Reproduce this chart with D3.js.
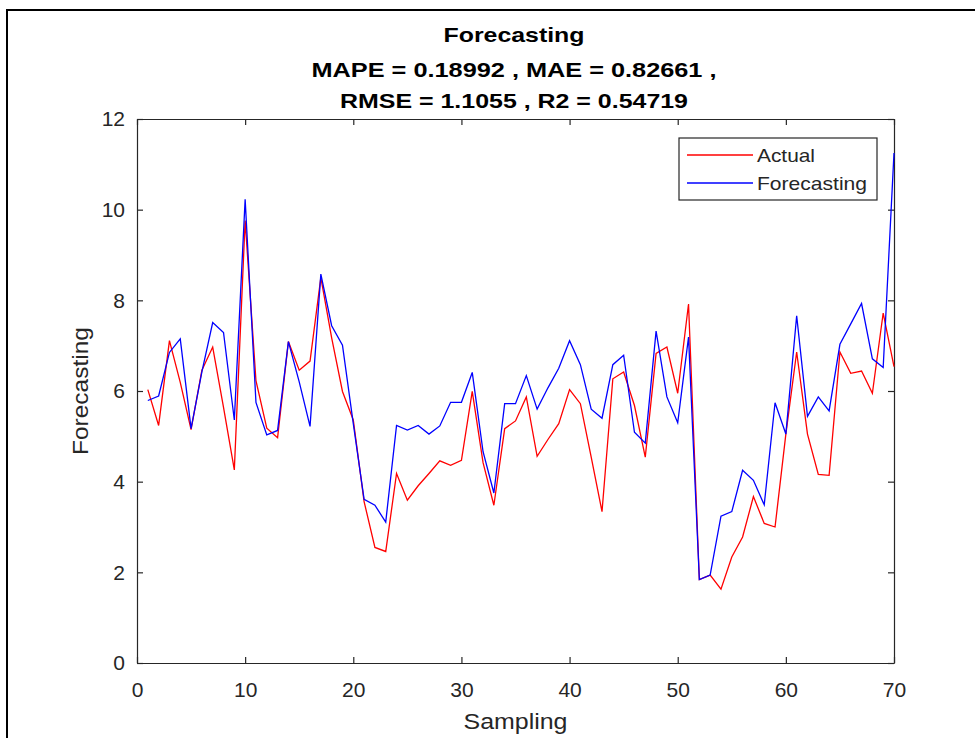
<!DOCTYPE html>
<html>
<head>
<meta charset="utf-8">
<title>Forecasting</title>
<script src="https://cdn.jsdelivr.net/npm/d3@7"></script>
<style>
  body { margin: 0; background: #fff; }
  text { font-family: "Liberation Sans", Arial, sans-serif; fill: #262626; }
</style>
</head>
<body>
<script>
  // x = 1..70 sampling index
  const actual = [
    6.03, 5.24, 7.11, 6.19, 5.15, 6.46, 6.97, 5.64, 4.26, 9.76,
    6.23, 5.18, 4.97, 7.09, 6.46, 6.66, 8.50, 7.17, 5.99, 5.36,
    3.56, 2.55, 2.46, 4.18, 3.59, 3.91, 4.18, 4.46, 4.36, 4.47,
    5.99, 4.42, 3.48, 5.17, 5.34, 5.87, 4.56, 4.93, 5.28, 6.03,
    5.72, 4.54, 3.34, 6.27, 6.42, 5.68, 4.54, 6.83, 6.97, 5.95,
    7.92, 1.84, 1.94, 1.63, 2.34, 2.78, 3.67, 3.08, 3.00, 5.05,
    6.86, 5.05, 4.16, 4.14, 6.86, 6.39, 6.44, 5.95, 7.72, 6.54
  ];
  const forecast = [
    5.79, 5.89, 6.85, 7.15, 5.17, 6.42, 7.51, 7.29, 5.36, 10.23,
    5.75, 5.03, 5.13, 7.09, 6.20, 5.22, 8.58, 7.44, 7.01, 5.28,
    3.61, 3.48, 3.11, 5.24, 5.14, 5.24, 5.05, 5.23, 5.75, 5.75,
    6.41, 4.66, 3.75, 5.72, 5.72, 6.34, 5.60, 6.07, 6.50, 7.11,
    6.58, 5.60, 5.40, 6.58, 6.79, 5.09, 4.85, 7.32, 5.87, 5.30,
    7.19, 1.84, 1.94, 3.24, 3.34, 4.25, 4.03, 3.49, 5.74, 5.05,
    7.66, 5.44, 5.87, 5.56, 7.03, 7.48, 7.93, 6.71, 6.52, 11.25
  ];
  const xTicks = [0, 10, 20, 30, 40, 50, 60, 70];
  const yTicks = [0, 2, 4, 6, 8, 10, 12];
  const titleLines = ['Forecasting', 'MAPE = 0.18992 , MAE = 0.82661 ,', 'RMSE = 1.1055 , R2 = 0.54719'];
  const seriesNames = ['Actual', 'Forecasting'];

  const width = 975, height = 738;
  const plotL = 137, plotR = 894, plotT = 119, plotB = 663;
  const axisColor = '#262626';

  const svg = d3.select('body').append('svg')
    .attr('width', width)
    .attr('height', height);

  // frame of the screenshot (top and left edges only)
  svg.append('line').attr('x1', 6).attr('x2', width).attr('y1', 10).attr('y2', 10)
    .attr('stroke', '#000').attr('stroke-width', 2);
  svg.append('line').attr('x1', 7).attr('x2', 7).attr('y1', 10).attr('y2', height)
    .attr('stroke', '#000').attr('stroke-width', 2);

  const x = d3.scaleLinear().domain([0, 70]).range([plotL, plotR]);
  const y = d3.scaleLinear().domain([0, 12]).range([plotB, plotT]);

  // axes: ticks point inward, box on all four sides
  const axB = d3.axisBottom(x).tickValues(xTicks).tickSizeInner(-6).tickSizeOuter(0).tickPadding(19);
  const axT = d3.axisTop(x).tickValues(xTicks).tickSizeInner(-6).tickSizeOuter(0).tickFormat('');
  const axL = d3.axisLeft(y).tickValues(yTicks).tickSizeInner(-6).tickSizeOuter(0).tickPadding(12);
  const axR = d3.axisRight(y).tickValues(yTicks).tickSizeInner(-6).tickSizeOuter(0).tickFormat('');

  function styleAxis(g) {
    g.select('.domain').attr('stroke', axisColor).attr('stroke-width', 1.2);
    g.selectAll('.tick line').attr('stroke', axisColor).attr('stroke-width', 1.2);
    g.selectAll('.tick text').attr('font-size', 21).attr('fill', '#333')
      .style('font-family', '"Liberation Sans", Arial, sans-serif');
  }

  svg.append('g').attr('transform', `translate(0,${plotB})`).call(axB).call(styleAxis);
  svg.append('g').attr('transform', `translate(0,${plotT})`).call(axT).call(styleAxis);
  svg.append('g').attr('transform', `translate(${plotL},0)`).call(axL).call(styleAxis);
  svg.append('g').attr('transform', `translate(${plotR},0)`).call(axR).call(styleAxis);

  // lines
  const line = d3.line().x((d, i) => x(i + 1)).y(d => y(d));
  svg.append('path').datum(actual)
    .attr('fill', 'none').attr('stroke', '#ff0000').attr('stroke-width', 1.3)
    .attr('d', line);
  svg.append('path').datum(forecast)
    .attr('fill', 'none').attr('stroke', '#0000ff').attr('stroke-width', 1.3)
    .attr('d', line);

  // title
  const titleY = [42, 77, 108];
  const titleW = [141, 405, 348];
  svg.selectAll('.title').data(titleLines).enter().append('text')
    .attr('class', 'title')
    .attr('x', 514).attr('y', (d, i) => titleY[i])
    .attr('text-anchor', 'middle')
    .attr('font-size', 21).attr('font-weight', 'bold')
    .attr('textLength', (d, i) => titleW[i]).attr('lengthAdjust', 'spacingAndGlyphs')
    .style('fill', '#000')
    .text(d => d);

  // axis labels
  svg.append('text')
    .attr('x', (plotL + plotR) / 2).attr('y', 729)
    .attr('text-anchor', 'middle').attr('font-size', 22)
    .attr('textLength', 104).attr('lengthAdjust', 'spacingAndGlyphs')
    .text('Sampling');
  svg.append('text')
    .attr('transform', `translate(88,${(plotT + plotB) / 2}) rotate(-90)`)
    .attr('text-anchor', 'middle').attr('font-size', 22)
    .attr('textLength', 128).attr('lengthAdjust', 'spacingAndGlyphs')
    .text('Forecasting');

  // legend
  const lg = svg.append('g').attr('transform', 'translate(679,138)');
  lg.append('rect').attr('width', 198).attr('height', 62)
    .attr('fill', '#fff').attr('stroke', axisColor).attr('stroke-width', 1.2);
  const colors = ['#ff0000', '#0000ff'];
  const legendW = [58, 110];
  seriesNames.forEach((name, i) => {
    const ly = 17 + i * 28;
    lg.append('line').attr('x1', 8).attr('x2', 74).attr('y1', ly).attr('y2', ly)
      .attr('stroke', colors[i]).attr('stroke-width', 1.3);
    lg.append('text').attr('x', 78).attr('y', ly + 7)
      .attr('font-size', 19)
      .attr('textLength', legendW[i]).attr('lengthAdjust', 'spacingAndGlyphs')
      .text(name);
  });
</script>
</body>
</html>
